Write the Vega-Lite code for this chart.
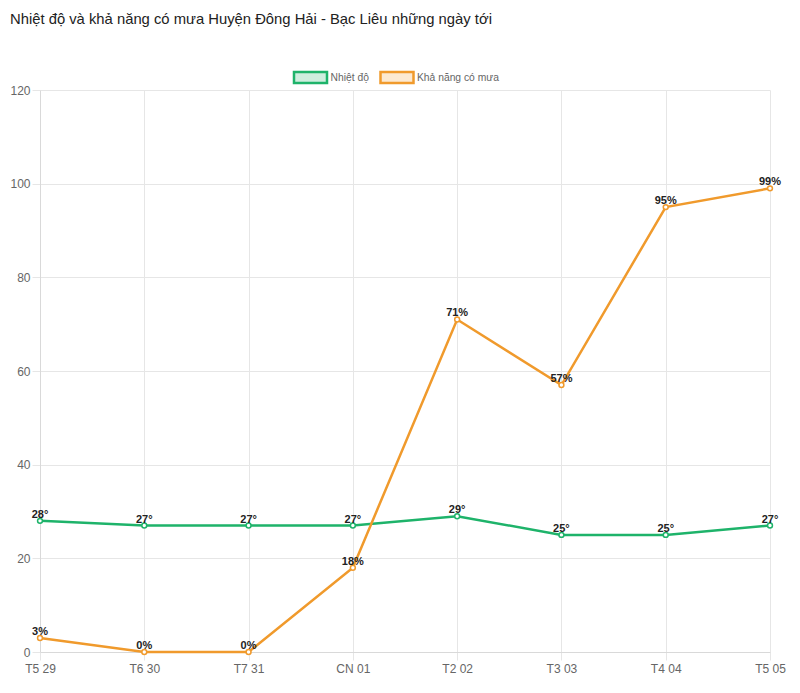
{
  "$schema": "https://vega.github.io/schema/vega-lite/v6.json",
  "width": 730,
  "height": 562,
  "autosize": {"type": "none"},
  "padding": {"left": 40, "top": 90, "right": 30, "bottom": 41},
  "background": "white",
  "title": {
    "text": "Nhiệt độ và khả năng có mưa Huyện Đông Hải - Bạc Liêu những ngày tới",
    "anchor": "start",
    "frame": "group",
    "dx": -30,
    "offset": 39,
    "fontSize": 14.8,
    "fontWeight": "normal",
    "font": "Liberation Sans",
    "color": "#222"
  },
  "data": {
    "values": [
      {"day": "T5 29", "series": "Nhiệt độ", "value": 28, "label": "28°"},
      {"day": "T6 30", "series": "Nhiệt độ", "value": 27, "label": "27°"},
      {"day": "T7 31", "series": "Nhiệt độ", "value": 27, "label": "27°"},
      {"day": "CN 01", "series": "Nhiệt độ", "value": 27, "label": "27°"},
      {"day": "T2 02", "series": "Nhiệt độ", "value": 29, "label": "29°"},
      {"day": "T3 03", "series": "Nhiệt độ", "value": 25, "label": "25°"},
      {"day": "T4 04", "series": "Nhiệt độ", "value": 25, "label": "25°"},
      {"day": "T5 05", "series": "Nhiệt độ", "value": 27, "label": "27°"},
      {"day": "T5 29", "series": "Khả năng có mưa", "value": 3, "label": "3%"},
      {"day": "T6 30", "series": "Khả năng có mưa", "value": 0, "label": "0%"},
      {"day": "T7 31", "series": "Khả năng có mưa", "value": 0, "label": "0%"},
      {"day": "CN 01", "series": "Khả năng có mưa", "value": 18, "label": "18%"},
      {"day": "T2 02", "series": "Khả năng có mưa", "value": 71, "label": "71%"},
      {"day": "T3 03", "series": "Khả năng có mưa", "value": 57, "label": "57%"},
      {"day": "T4 04", "series": "Khả năng có mưa", "value": 95, "label": "95%"},
      {"day": "T5 05", "series": "Khả năng có mưa", "value": 99, "label": "99%"}
    ]
  },
  "encoding": {
    "x": {
      "field": "day",
      "type": "ordinal",
      "sort": null,
      "scale": {"type": "point", "padding": 0},
      "axis": {
        "title": null,
        "labelAngle": 0,
        "grid": true,
        "gridColor": "#e6e6e6",
        "domainColor": "#d9d9d9",
        "tickColor": "#e6e6e6",
        "tickSize": 8,
        "labelPadding": 3,
        "labelFontSize": 12,
        "labelColor": "#666",
        "labelFont": "Liberation Sans"
      }
    },
    "y": {
      "field": "value",
      "type": "quantitative",
      "scale": {"domain": [0, 120], "nice": false},
      "axis": {
        "title": null,
        "values": [0, 20, 40, 60, 80, 100, 120],
        "grid": true,
        "gridColor": "#e6e6e6",
        "domainColor": "#d9d9d9",
        "tickColor": "#e6e6e6",
        "tickSize": 8,
        "labelPadding": 2,
        "labelFontSize": 12,
        "labelColor": "#666",
        "labelFont": "Liberation Sans"
      }
    },
    "color": {
      "field": "series",
      "type": "nominal",
      "scale": {"domain": ["Nhiệt độ", "Khả năng có mưa"], "range": ["#1eb36a", "#f09a2c"]},
      "legend": {
        "title": null,
        "orient": "none",
        "legendX": 259,
        "legendY": -24,
        "direction": "horizontal",
        "symbolType": "M-1.65,-0.55H1.65V0.55H-1.65Z",
        "symbolSize": 400,
        "symbolStrokeWidth": 2.5,
        "labelOffset": 8.5,
        "columnPadding": 6.5,
        "labelFontSize": 10.3,
        "labelColor": "#666",
        "labelFont": "Liberation Sans",
        "encode": {
          "symbols": {
            "update": {
              "fill": {"scale": "color", "field": "value"},
              "fillOpacity": {"value": 0.22},
              "stroke": {"scale": "color", "field": "value"},
              "strokeWidth": {"value": 2.5},
              "opacity": {"value": 1}
            }
          }
        }
      }
    }
  },
  "layer": [
    {"mark": {"type": "line", "strokeWidth": 2.5}},
    {"mark": {"type": "point", "filled": false, "fill": "#fff", "size": 24, "strokeWidth": 1.5, "opacity": 1}},
    {
      "mark": {"type": "text", "dy": -6, "fontSize": 11, "fontWeight": "bold", "font": "Liberation Sans", "color": "#222"},
      "encoding": {"text": {"field": "label"}, "color": {"value": "#222"}}
    }
  ],
  "config": {"view": {"stroke": null}}
}
